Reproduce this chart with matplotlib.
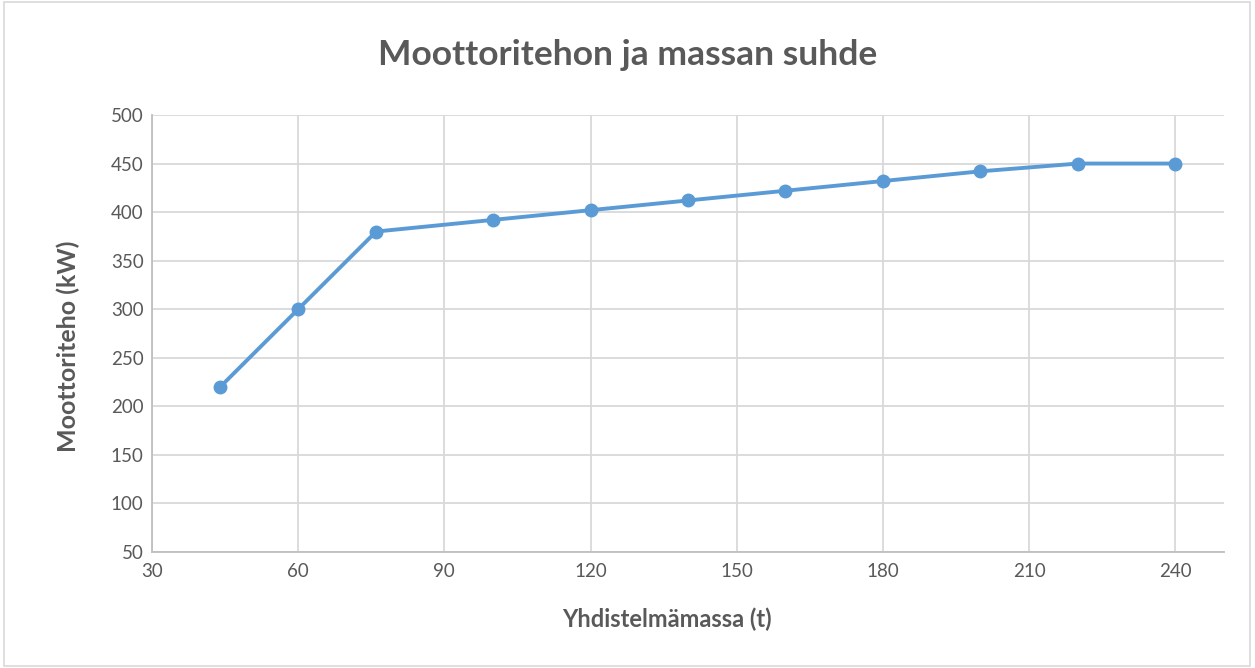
import matplotlib
matplotlib.use("Agg")
import matplotlib.pyplot as plt
from matplotlib.patches import Rectangle

mass_t = [44, 60, 76, 100, 120, 140, 160, 180, 200, 220, 240]
power_kw = [220, 300, 380, 392, 402, 412, 422, 432, 442, 450, 450]
x_ticks = [30, 60, 90, 120, 150, 180, 210, 240]
y_ticks = [50, 100, 150, 200, 250, 300, 350, 400, 450, 500]

plt.rcParams["font.family"] = ["Lato", "DejaVu Sans"]
TXT = "#595959"
LINE = "#5B9BD5"

fig = plt.figure(figsize=(12.55, 6.68), dpi=100)
ax = fig.add_axes([152 / 1255, 1 - 552 / 668, (1224 - 152) / 1255, (552 - 115) / 668])

ax.plot(mass_t, power_kw, color=LINE, linewidth=2.8, marker="o", markersize=9,
        zorder=3, clip_on=False)

ax.set_xlim(30, 250)
ax.set_ylim(50, 500)
ax.set_xticks(x_ticks)
ax.set_yticks(y_ticks)
ax.grid(True, color="#D9D9D9", linewidth=1.3)
ax.set_axisbelow(True)
for side in ("top", "right"):
    ax.spines[side].set_visible(False)
for side in ("left", "bottom"):
    ax.spines[side].set_color("#BFBFBF")
    ax.spines[side].set_linewidth(1.3)
ax.tick_params(length=0, labelsize=13.5, colors=TXT)
ax.tick_params(axis="y", pad=6)
ax.tick_params(axis="x", pad=8)

ax.set_xlabel("Yhdistelmämassa (t)", fontsize=17, fontweight="bold", color=TXT, labelpad=20)
ax.set_ylabel("Moottoriteho (kW)", fontsize=18, fontweight="bold", color=TXT, labelpad=22)
ax.xaxis.label.set_x(0.48)
ax.yaxis.label.set_y(0.47)
fig.text(0.5, 1 - 55 / 668, "Moottoritehon ja massan suhde", ha="center", va="center",
         fontsize=25.5, fontweight="bold", color=TXT)

fig.patches.append(Rectangle((4 / 1255, 2 / 668), 1246 / 1255, 664 / 668,
                             transform=fig.transFigure, fill=False,
                             edgecolor="#D9D9D9", linewidth=1.2))

fig.savefig("out.png", dpi=100, facecolor="white")
